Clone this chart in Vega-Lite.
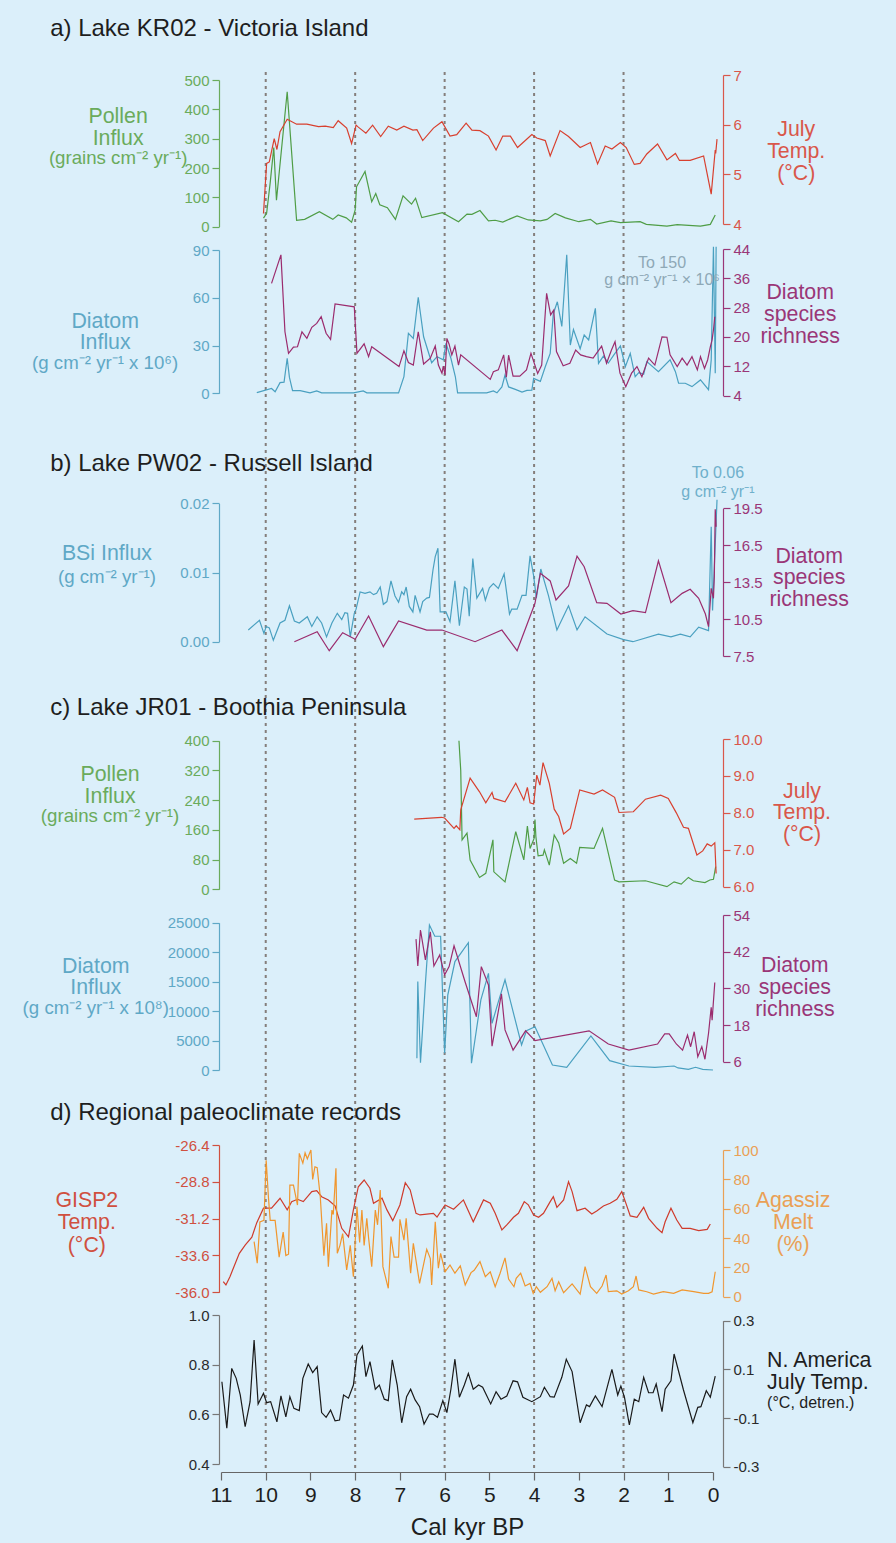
{
"$schema": "https://vega.github.io/schema/vega-lite/v6.json",
"width": 492, "height": 1400,
"autosize": {"type": "none"},
"padding": {"left": 221, "top": 72, "right": 183, "bottom": 71},
"background": "#dbeffa",
"config": {
  "view": {"stroke": null},
  "locale": {"number": {"decimal": ".", "thousands": ",", "grouping": [3], "currency": ["$", ""], "minus": "-"}},
  "axis": {"grid": false, "labelFont": "Liberation Sans", "labelFontSize": 15, "tickSize": 7, "labelPadding": 3, "domainWidth": 1.2, "tickWidth": 1.2, "titleFont": "Liberation Sans", "labelFlush": false, "labelOverlap": false},
  "text": {"font": "Liberation Sans"},
  "line": {"strokeWidth": 1.2}
},
"datasets": {
  "rules": [{"k": 10}, {"k": 8}, {"k": 6}, {"k": 4}, {"k": 2}],
  "pollenA": [{"k":10.05,"v":29},{"k":9.98,"v":46},{"k":9.9,"v":150},{"k":9.82,"v":270},{"k":9.76,"v":90},{"k":9.52,"v":460},{"k":9.31,"v":22},{"k":9.13,"v":25},{"k":8.8,"v":51},{"k":8.5,"v":25},{"k":8.38,"v":40},{"k":8.2,"v":30},{"k":8.08,"v":15},{"k":8.0,"v":57},{"k":7.97,"v":136},{"k":7.78,"v":188},{"k":7.63,"v":85},{"k":7.54,"v":113},{"k":7.45,"v":75},{"k":7.28,"v":65},{"k":7.1,"v":25},{"k":6.93,"v":105},{"k":6.74,"v":77},{"k":6.65,"v":97},{"k":6.51,"v":31},{"k":6.05,"v":48},{"k":5.69,"v":17},{"k":5.5,"v":43},{"k":5.39,"v":42},{"k":5.21,"v":55},{"k":5.02,"v":20},{"k":4.87,"v":22},{"k":4.7,"v":16},{"k":4.38,"v":37},{"k":4.13,"v":23},{"k":3.86,"v":20},{"k":3.71,"v":25},{"k":3.53,"v":45},{"k":3.3,"v":30},{"k":3.0,"v":17},{"k":2.74,"v":25},{"k":2.6,"v":9},{"k":2.28,"v":20},{"k":2.07,"v":14},{"k":1.63,"v":17},{"k":1.49,"v":8},{"k":1.03,"v":2},{"k":0.8,"v":7},{"k":0.28,"v":2},{"k":0.06,"v":8},{"k":-0.05,"v":40}],
  "tempA": [{"k":10.05,"v":4.21},{"k":9.98,"v":5.22},{"k":9.92,"v":5.25},{"k":9.81,"v":5.72},{"k":9.75,"v":5.5},{"k":9.68,"v":5.86},{"k":9.52,"v":6.11},{"k":9.31,"v":6.01},{"k":9.08,"v":6.01},{"k":8.82,"v":5.96},{"k":8.67,"v":5.97},{"k":8.49,"v":5.94},{"k":8.38,"v":6.08},{"k":8.19,"v":5.93},{"k":8.08,"v":5.62},{"k":7.98,"v":5.99},{"k":7.93,"v":5.95},{"k":7.76,"v":5.83},{"k":7.61,"v":5.99},{"k":7.43,"v":5.76},{"k":7.26,"v":5.97},{"k":7.07,"v":5.89},{"k":6.91,"v":5.97},{"k":6.71,"v":5.89},{"k":6.62,"v":5.9},{"k":6.49,"v":5.68},{"k":6.25,"v":5.93},{"k":6.06,"v":6.06},{"k":5.88,"v":5.77},{"k":5.73,"v":5.8},{"k":5.52,"v":6.03},{"k":5.39,"v":5.89},{"k":5.21,"v":5.88},{"k":5.02,"v":5.77},{"k":4.85,"v":5.49},{"k":4.7,"v":5.77},{"k":4.53,"v":5.77},{"k":4.37,"v":5.54},{"k":4.05,"v":5.8},{"k":3.94,"v":5.73},{"k":3.75,"v":5.68},{"k":3.64,"v":5.37},{"k":3.42,"v":5.88},{"k":3.23,"v":5.76},{"k":2.97,"v":5.54},{"k":2.74,"v":5.64},{"k":2.58,"v":5.21},{"k":2.41,"v":5.57},{"k":2.26,"v":5.51},{"k":2.07,"v":5.64},{"k":1.94,"v":5.54},{"k":1.76,"v":5.2},{"k":1.63,"v":5.22},{"k":1.48,"v":5.41},{"k":1.24,"v":5.61},{"k":1.03,"v":5.29},{"k":0.84,"v":5.42},{"k":0.75,"v":5.28},{"k":0.51,"v":5.28},{"k":0.21,"v":5.37},{"k":0.04,"v":4.6},{"k":-0.05,"v":5.49},{"k":-0.06,"v":5.42},{"k":-0.09,"v":5.71}],
  "diatA": [{"k":10.2,"v":0.4},{"k":9.87,"v":3},{"k":9.79,"v":1},{"k":9.68,"v":6.7},{"k":9.59,"v":7},{"k":9.52,"v":22},{"k":9.47,"v":10},{"k":9.4,"v":1.7},{"k":9.23,"v":1.7},{"k":9.01,"v":0.3},{"k":8.86,"v":1.5},{"k":8.75,"v":0.3},{"k":8.04,"v":0.3},{"k":7.82,"v":1.5},{"k":7.74,"v":0.3},{"k":7.03,"v":0.3},{"k":6.91,"v":10.5},{"k":6.81,"v":37.7},{"k":6.7,"v":34.5},{"k":6.59,"v":60.3},{"k":6.47,"v":35.5},{"k":6.29,"v":19.2},{"k":6.17,"v":23},{"k":6.03,"v":21},{"k":5.97,"v":31.4},{"k":5.86,"v":22},{"k":5.76,"v":10.4},{"k":5.71,"v":0.3},{"k":5.06,"v":0.3},{"k":4.91,"v":1.5},{"k":4.83,"v":0.3},{"k":4.72,"v":4},{"k":4.65,"v":11.5},{"k":4.57,"v":4},{"k":4.42,"v":2.5},{"k":4.27,"v":0.8},{"k":4.16,"v":1.8},{"k":4.05,"v":2},{"k":4.01,"v":9.4},{"k":3.86,"v":7.5},{"k":3.75,"v":16.7},{"k":3.64,"v":25},{"k":3.57,"v":50},{"k":3.48,"v":57.5},{"k":3.38,"v":42},{"k":3.27,"v":87},{"k":3.19,"v":30.3},{"k":3.12,"v":40},{"k":2.97,"v":28},{"k":2.88,"v":36.6},{"k":2.78,"v":33.5},{"k":2.63,"v":53.4},{"k":2.56,"v":18.8},{"k":2.45,"v":23.4},{"k":2.34,"v":19},{"k":2.22,"v":24},{"k":2.07,"v":29.7},{"k":1.96,"v":16.7},{"k":1.85,"v":25},{"k":1.74,"v":10.4},{"k":1.66,"v":13},{"k":1.55,"v":12},{"k":1.48,"v":19.9},{"k":1.22,"v":13.6},{"k":0.96,"v":21},{"k":0.84,"v":13.6},{"k":0.77,"v":6.3},{"k":0.62,"v":6.3},{"k":0.47,"v":4.2},{"k":0.28,"v":8.4},{"k":0.1,"v":2.3},{"k":0.04,"v":21},{"k":-0.01,"v":92},{"k":-0.05,"v":12.6},{"k":-0.07,"v":92}],
  "richA": [{"k":9.87,"v":34.6},{"k":9.66,"v":42.4},{"k":9.57,"v":21.4},{"k":9.49,"v":15.5},{"k":9.38,"v":17.2},{"k":9.29,"v":17.3},{"k":9.19,"v":21.4},{"k":9.08,"v":19.6},{"k":8.97,"v":22.6},{"k":8.86,"v":23.7},{"k":8.76,"v":25.5},{"k":8.65,"v":21},{"k":8.55,"v":19.3},{"k":8.45,"v":29},{"k":8.02,"v":28.2},{"k":7.96,"v":15.5},{"k":7.8,"v":18.1},{"k":7.7,"v":14.6},{"k":7.63,"v":17.3},{"k":7.02,"v":11.9},{"k":6.91,"v":16.2},{"k":6.81,"v":13},{"k":6.7,"v":12.3},{"k":6.59,"v":21.4},{"k":6.47,"v":12.6},{"k":6.32,"v":14.2},{"k":6.21,"v":17.5},{"k":6.14,"v":12.3},{"k":6.06,"v":10.1},{"k":6.03,"v":12},{"k":5.99,"v":9.6},{"k":5.95,"v":19.6},{"k":5.9,"v":18},{"k":5.84,"v":15.1},{"k":5.77,"v":17.5},{"k":5.69,"v":12.3},{"k":5.64,"v":15.1},{"k":4.98,"v":8.4},{"k":4.91,"v":10.5},{"k":4.8,"v":11},{"k":4.68,"v":15.1},{"k":4.62,"v":9},{"k":4.57,"v":15},{"k":4.47,"v":9.3},{"k":4.32,"v":9.3},{"k":4.17,"v":11},{"k":4.07,"v":15.5},{"k":3.92,"v":10},{"k":3.83,"v":12.3},{"k":3.72,"v":31.9},{"k":3.63,"v":26},{"k":3.56,"v":27.3},{"k":3.5,"v":16},{"k":3.35,"v":12.1},{"k":3.2,"v":12.8},{"k":3.07,"v":16.4},{"k":2.96,"v":15.1},{"k":2.83,"v":14.6},{"k":2.68,"v":14.2},{"k":2.49,"v":17.5},{"k":2.38,"v":12.8},{"k":2.27,"v":16.4},{"k":2.19,"v":18.7},{"k":2.08,"v":10.1},{"k":1.95,"v":6.4},{"k":1.82,"v":10.1},{"k":1.7,"v":11.9},{"k":1.59,"v":9.1},{"k":1.44,"v":14.2},{"k":1.3,"v":12.3},{"k":1.14,"v":20},{"k":1.03,"v":19.9},{"k":0.96,"v":15.1},{"k":0.8,"v":11.9},{"k":0.69,"v":14.2},{"k":0.58,"v":12.3},{"k":0.47,"v":14.6},{"k":0.35,"v":11},{"k":0.28,"v":14.6},{"k":0.19,"v":11.4},{"k":0.12,"v":13.7},{"k":0.06,"v":17.3},{"k":0.02,"v":19.2},{"k":-0.01,"v":21.9},{"k":-0.04,"v":25.5}],
  "bsi": [{"k":10.39,"v":0.0017},{"k":10.14,"v":0.0031},{"k":10.04,"v":0.0012},{"k":9.99,"v":0.0022},{"k":9.92,"v":0.002},{"k":9.83,"v":0.0002},{"k":9.68,"v":0.0027},{"k":9.57,"v":0.0031},{"k":9.47,"v":0.0052},{"k":9.36,"v":0.003},{"k":9.25,"v":0.0027},{"k":9.07,"v":0.0036},{"k":8.97,"v":0.0022},{"k":8.85,"v":0.0036},{"k":8.75,"v":0.0027},{"k":8.64,"v":0.0007},{"k":8.52,"v":0.0027},{"k":8.4,"v":0.0041},{"k":8.3,"v":0.0032},{"k":8.23,"v":0.0042},{"k":8.17,"v":0.0041},{"k":8.11,"v":0.0007},{"k":8.02,"v":0.0041},{"k":7.98,"v":0.0047},{"k":7.89,"v":0.0072},{"k":7.78,"v":0.007},{"k":7.67,"v":0.0072},{"k":7.59,"v":0.0068},{"k":7.52,"v":0.007},{"k":7.44,"v":0.0079},{"k":7.37,"v":0.0054},{"k":7.29,"v":0.0058},{"k":7.2,"v":0.0088},{"k":7.11,"v":0.0066},{"k":7.03,"v":0.0057},{"k":6.96,"v":0.0072},{"k":6.91,"v":0.0068},{"k":6.86,"v":0.0079},{"k":6.79,"v":0.0051},{"k":6.71,"v":0.0043},{"k":6.66,"v":0.0067},{"k":6.55,"v":0.0043},{"k":6.49,"v":0.0058},{"k":6.4,"v":0.0063},{"k":6.34,"v":0.0064},{"k":6.26,"v":0.0104},{"k":6.21,"v":0.0123},{"k":6.15,"v":0.0135},{"k":6.1,"v":0.0043},{"k":5.97,"v":0.0043},{"k":5.88,"v":0.0029},{"k":5.77,"v":0.0088},{"k":5.67,"v":0.0023},{"k":5.56,"v":0.0079},{"k":5.5,"v":0.0076},{"k":5.45,"v":0.0037},{"k":5.37,"v":0.012},{"k":5.28,"v":0.0063},{"k":5.15,"v":0.0077},{"k":5.09,"v":0.006},{"k":5.0,"v":0.0078},{"k":4.91,"v":0.0084},{"k":4.8,"v":0.0077},{"k":4.67,"v":0.0098},{"k":4.55,"v":0.004},{"k":4.5,"v":0.0047},{"k":4.38,"v":0.0047},{"k":4.27,"v":0.0067},{"k":4.18,"v":0.0067},{"k":4.09,"v":0.0124},{"k":4.01,"v":0.0095},{"k":3.95,"v":0.0063},{"k":3.85,"v":0.0105},{"k":3.68,"v":0.0067},{"k":3.49,"v":0.0017},{"k":3.23,"v":0.0052},{"k":3.04,"v":0.0017},{"k":2.86,"v":0.0036},{"k":2.37,"v":0.0011},{"k":2.0,"v":0.0003},{"k":1.79,"v":0.0},{"k":1.22,"v":0.0011},{"k":0.94,"v":0.0007},{"k":0.73,"v":0.0011},{"k":0.51,"v":0.0007},{"k":0.32,"v":0.0021},{"k":0.1,"v":0.0016},{"k":0.04,"v":0.0166},{"k":0.01,"v":0.0045},{"k":-0.09,"v":0.0205}],
  "richB": [{"k":9.36,"v":8.66},{"k":8.85,"v":9.47},{"k":8.58,"v":7.93},{"k":8.28,"v":9.39},{"k":8.0,"v":8.86},{"k":7.7,"v":10.75},{"k":7.37,"v":8.26},{"k":7.03,"v":10.34},{"k":6.4,"v":9.61},{"k":6.06,"v":9.61},{"k":5.32,"v":8.66},{"k":4.72,"v":9.61},{"k":4.38,"v":7.93},{"k":3.98,"v":11.78},{"k":3.86,"v":14.22},{"k":3.64,"v":13.6},{"k":3.51,"v":12.05},{"k":3.23,"v":13.19},{"k":3.04,"v":15.62},{"k":2.88,"v":14.75},{"k":2.6,"v":11.83},{"k":2.37,"v":11.78},{"k":2.06,"v":10.91},{"k":1.79,"v":11.18},{"k":1.51,"v":11.02},{"k":1.22,"v":15.24},{"k":0.94,"v":11.83},{"k":0.69,"v":12.59},{"k":0.51,"v":12.92},{"k":0.32,"v":12.19},{"k":0.17,"v":10.91},{"k":0.1,"v":9.88},{"k":0.04,"v":13.0},{"k":-0.01,"v":12.19},{"k":-0.03,"v":14.0},{"k":-0.05,"v":19.42},{"k":-0.07,"v":18.0}],
  "pollenC": [{"k":5.68,"v":400},{"k":5.64,"v":320},{"k":5.61,"v":133},{"k":5.5,"v":151},{"k":5.43,"v":79},{"k":5.22,"v":32},{"k":5.08,"v":43},{"k":4.92,"v":133},{"k":4.9,"v":47},{"k":4.65,"v":20},{"k":4.41,"v":155},{"k":4.23,"v":79},{"k":4.15,"v":170},{"k":4.09,"v":110},{"k":4.0,"v":137},{"k":3.98,"v":188},{"k":3.96,"v":142},{"k":3.91,"v":90},{"k":3.8,"v":92},{"k":3.77,"v":106},{"k":3.66,"v":65},{"k":3.55,"v":146},{"k":3.45,"v":125},{"k":3.34,"v":70},{"k":3.19,"v":83},{"k":3.05,"v":70},{"k":2.98,"v":113},{"k":2.66,"v":110},{"k":2.47,"v":164},{"k":2.2,"v":25},{"k":2.1,"v":20},{"k":1.51,"v":23},{"k":1.03,"v":7},{"k":0.87,"v":20},{"k":0.71,"v":14},{"k":0.55,"v":32},{"k":0.44,"v":23},{"k":0.18,"v":18},{"k":0.07,"v":25},{"k":-0.01,"v":27},{"k":-0.06,"v":61}],
  "tempC": [{"k":6.68,"v":7.83},{"k":6.07,"v":7.88},{"k":6.0,"v":7.86},{"k":5.79,"v":7.58},{"k":5.74,"v":7.65},{"k":5.66,"v":7.54},{"k":5.64,"v":8.08},{"k":5.43,"v":8.94},{"k":5.22,"v":8.57},{"k":5.08,"v":8.27},{"k":4.94,"v":8.55},{"k":4.9,"v":8.39},{"k":4.65,"v":8.3},{"k":4.41,"v":8.8},{"k":4.23,"v":8.35},{"k":4.15,"v":8.69},{"k":4.09,"v":8.27},{"k":4.01,"v":8.24},{"k":3.94,"v":9.02},{"k":3.87,"v":8.75},{"k":3.8,"v":9.36},{"k":3.66,"v":8.8},{"k":3.55,"v":8.1},{"k":3.45,"v":7.9},{"k":3.34,"v":7.43},{"k":3.19,"v":7.58},{"k":2.98,"v":8.62},{"k":2.66,"v":8.51},{"k":2.47,"v":8.62},{"k":2.2,"v":8.42},{"k":2.1,"v":8.01},{"k":1.78,"v":8.03},{"k":1.51,"v":8.37},{"k":1.17,"v":8.48},{"k":1.0,"v":8.39},{"k":0.82,"v":8.0},{"k":0.66,"v":7.61},{"k":0.55,"v":7.58},{"k":0.36,"v":6.86},{"k":0.23,"v":6.97},{"k":0.13,"v":7.16},{"k":0.04,"v":7.1},{"k":-0.04,"v":7.19},{"k":-0.07,"v":6.36}],
  "diatC": [{"k":6.62,"v":2000},{"k":6.6,"v":15000},{"k":6.54,"v":1240},{"k":6.43,"v":14700},{"k":6.34,"v":24600},{"k":6.22,"v":22700},{"k":6.09,"v":22700},{"k":6.0,"v":2830},{"k":5.93,"v":12700},{"k":5.77,"v":18400},{"k":5.47,"v":21600},{"k":5.4,"v":1140},{"k":5.19,"v":11900},{"k":5.02,"v":16400},{"k":4.94,"v":7900},{"k":4.81,"v":11300},{"k":4.65,"v":15300},{"k":4.28,"v":4240},{"k":4.17,"v":6670},{"k":3.98,"v":7350},{"k":3.59,"v":850},{"k":3.27,"v":460},{"k":2.73,"v":5770},{"k":2.31,"v":1580},{"k":1.88,"v":680},{"k":1.3,"v":460},{"k":0.87,"v":680},{"k":0.78,"v":350},{"k":0.55,"v":120},{"k":0.39,"v":460},{"k":0.23,"v":120},{"k":0.0,"v":0}],
  "richC": [{"k":6.64,"v":46.1},{"k":6.6,"v":37.3},{"k":6.54,"v":49.1},{"k":6.43,"v":39.3},{"k":6.32,"v":48.5},{"k":6.24,"v":37.3},{"k":6.11,"v":40.9},{"k":6.0,"v":34.4},{"k":5.9,"v":37.1},{"k":5.79,"v":43.9},{"k":5.54,"v":32},{"k":5.29,"v":20.7},{"k":5.18,"v":37.1},{"k":5.02,"v":31.1},{"k":4.94,"v":11.1},{"k":4.73,"v":28.2},{"k":4.65,"v":16.4},{"k":4.47,"v":9.8},{"k":4.19,"v":16.1},{"k":3.98,"v":12.9},{"k":2.77,"v":16.1},{"k":2.34,"v":11.8},{"k":1.88,"v":9.8},{"k":1.24,"v":11.8},{"k":1.08,"v":15.1},{"k":0.98,"v":15.1},{"k":0.82,"v":11.8},{"k":0.68,"v":9.8},{"k":0.57,"v":14.7},{"k":0.5,"v":10.9},{"k":0.42,"v":15.8},{"k":0.34,"v":7.6},{"k":0.25,"v":10.9},{"k":0.18,"v":6.8},{"k":0.1,"v":15.3},{"k":0.04,"v":23.8},{"k":0.02,"v":19.6},{"k":-0.04,"v":31.9}],
  "gisp": [{"k":10.95,"v":-35.31},{"k":10.89,"v":-35.52},{"k":10.8,"v":-34.98},{"k":10.59,"v":-33.46},{"k":10.46,"v":-32.92},{"k":10.31,"v":-32.41},{"k":10.2,"v":-31.46},{"k":10.05,"v":-30.52},{"k":9.87,"v":-30.52},{"k":9.68,"v":-29.87},{"k":9.52,"v":-30.63},{"k":9.42,"v":-30.09},{"k":9.29,"v":-29.94},{"k":9.16,"v":-30.09},{"k":8.97,"v":-29.44},{"k":8.86,"v":-29.38},{"k":8.75,"v":-29.77},{"k":8.6,"v":-29.98},{"k":8.45,"v":-30.37},{"k":8.3,"v":-31.83},{"k":8.15,"v":-32.38},{"k":8.04,"v":-30.63},{"k":7.93,"v":-29.12},{"k":7.8,"v":-28.68},{"k":7.67,"v":-29.22},{"k":7.59,"v":-30.2},{"k":7.4,"v":-29.87},{"k":7.29,"v":-30.63},{"k":7.16,"v":-31.33},{"k":7.0,"v":-30.31},{"k":6.88,"v":-28.86},{"k":6.77,"v":-29.33},{"k":6.64,"v":-30.85},{"k":6.55,"v":-30.96},{"k":6.25,"v":-30.85},{"k":6.17,"v":-31.1},{"k":5.99,"v":-30.31},{"k":5.8,"v":-30.59},{"k":5.58,"v":-29.98},{"k":5.36,"v":-31.4},{"k":5.13,"v":-29.98},{"k":4.98,"v":-30.2},{"k":4.87,"v":-30.85},{"k":4.72,"v":-31.94},{"k":4.61,"v":-31.61},{"k":4.46,"v":-31.11},{"k":4.35,"v":-30.85},{"k":4.22,"v":-30.09},{"k":4.13,"v":-30.3},{"k":4.01,"v":-30.96},{"k":3.9,"v":-31.11},{"k":3.79,"v":-30.85},{"k":3.64,"v":-30.09},{"k":3.57,"v":-29.77},{"k":3.49,"v":-30.46},{"k":3.34,"v":-29.98},{"k":3.23,"v":-28.79},{"k":3.15,"v":-29.44},{"k":3.04,"v":-30.68},{"k":2.86,"v":-30.52},{"k":2.71,"v":-30.9},{"k":2.6,"v":-30.7},{"k":2.45,"v":-30.37},{"k":2.3,"v":-30.2},{"k":2.15,"v":-29.94},{"k":2.04,"v":-29.44},{"k":1.96,"v":-30.09},{"k":1.85,"v":-31.02},{"k":1.7,"v":-31.11},{"k":1.55,"v":-30.46},{"k":1.44,"v":-31.18},{"k":1.25,"v":-31.83},{"k":1.14,"v":-32.11},{"k":1.07,"v":-31.4},{"k":0.94,"v":-30.52},{"k":0.81,"v":-31.29},{"k":0.69,"v":-31.83},{"k":0.51,"v":-31.83},{"k":0.32,"v":-31.98},{"k":0.13,"v":-31.9},{"k":0.06,"v":-31.55}],
  "agassiz": [{"k":10.26,"v":37.5},{"k":10.19,"v":22.8},{"k":10.13,"v":51},{"k":10.04,"v":52},{"k":9.99,"v":93},{"k":9.94,"v":68},{"k":9.9,"v":52},{"k":9.79,"v":52},{"k":9.7,"v":27},{"k":9.61,"v":44},{"k":9.55,"v":28},{"k":9.49,"v":29},{"k":9.46,"v":76},{"k":9.38,"v":76},{"k":9.29,"v":62.5},{"k":9.25,"v":97.7},{"k":9.17,"v":91},{"k":9.12,"v":98},{"k":9.07,"v":94},{"k":8.99,"v":100},{"k":8.95,"v":80},{"k":8.9,"v":88.6},{"k":8.85,"v":88},{"k":8.78,"v":68},{"k":8.7,"v":28},{"k":8.64,"v":50},{"k":8.6,"v":20.5},{"k":8.52,"v":59},{"k":8.49,"v":56},{"k":8.43,"v":87.5},{"k":8.4,"v":29.6},{"k":8.34,"v":35},{"k":8.28,"v":43},{"k":8.19,"v":18.2},{"k":8.11,"v":35},{"k":8.04,"v":13.6},{"k":7.96,"v":61.3},{"k":7.9,"v":37},{"k":7.85,"v":59},{"k":7.8,"v":35},{"k":7.74,"v":53.4},{"k":7.7,"v":40},{"k":7.63,"v":20.5},{"k":7.55,"v":59},{"k":7.5,"v":49},{"k":7.44,"v":72.7},{"k":7.38,"v":20.5},{"k":7.26,"v":5.7},{"k":7.2,"v":41},{"k":7.13,"v":27},{"k":7.03,"v":27},{"k":7.0,"v":52.8},{"k":6.91,"v":38.6},{"k":6.86,"v":53.4},{"k":6.76,"v":16},{"k":6.7,"v":36.4},{"k":6.56,"v":9.1},{"k":6.4,"v":32.3},{"k":6.32,"v":26},{"k":6.29,"v":8},{"k":6.21,"v":51},{"k":6.14,"v":19.4},{"k":6.09,"v":29.6},{"k":5.99,"v":17},{"k":5.88,"v":21.6},{"k":5.77,"v":16},{"k":5.65,"v":21},{"k":5.54,"v":8},{"k":5.41,"v":16.4},{"k":5.34,"v":18},{"k":5.21,"v":23.9},{"k":5.09,"v":13.6},{"k":4.98,"v":17},{"k":4.87,"v":6.8},{"k":4.76,"v":16},{"k":4.65,"v":26.5},{"k":4.57,"v":12},{"k":4.45,"v":6.8},{"k":4.4,"v":12.5},{"k":4.3,"v":16},{"k":4.2,"v":7.3},{"k":4.09,"v":9.1},{"k":4.02,"v":2.3},{"k":3.95,"v":6.8},{"k":3.86,"v":3},{"k":3.71,"v":6.8},{"k":3.6,"v":12.5},{"k":3.53,"v":4},{"k":3.45,"v":10.2},{"k":3.34,"v":2.7},{"k":3.15,"v":8.7},{"k":2.97,"v":1.8},{"k":2.86,"v":20.5},{"k":2.74,"v":6.8},{"k":2.6,"v":2.3},{"k":2.48,"v":7.3},{"k":2.39,"v":14.8},{"k":2.34,"v":3.4},{"k":2.15,"v":4},{"k":2.04,"v":1.8},{"k":1.89,"v":4},{"k":1.78,"v":6.8},{"k":1.72,"v":14.1},{"k":1.66,"v":4.6},{"k":1.48,"v":3.4},{"k":1.33,"v":1.8},{"k":1.11,"v":3.4},{"k":0.88,"v":2.3},{"k":0.69,"v":4.6},{"k":0.43,"v":3.4},{"k":0.21,"v":2.3},{"k":0.1,"v":2.3},{"k":0.02,"v":3.4},{"k":-0.05,"v":17}],
  "na": [{"k":10.98,"v":0.731},{"k":10.87,"v":0.544},{"k":10.76,"v":0.785},{"k":10.66,"v":0.745},{"k":10.57,"v":0.678},{"k":10.46,"v":0.55},{"k":10.35,"v":0.651},{"k":10.26,"v":0.899},{"k":10.17,"v":0.642},{"k":10.05,"v":0.685},{"k":9.98,"v":0.647},{"k":9.89,"v":0.651},{"k":9.75,"v":0.57},{"k":9.66,"v":0.674},{"k":9.55,"v":0.59},{"k":9.46,"v":0.671},{"k":9.37,"v":0.624},{"k":9.25,"v":0.615},{"k":9.17,"v":0.745},{"k":9.05,"v":0.803},{"k":8.95,"v":0.768},{"k":8.85,"v":0.792},{"k":8.75,"v":0.607},{"k":8.65,"v":0.588},{"k":8.55,"v":0.617},{"k":8.45,"v":0.574},{"k":8.35,"v":0.577},{"k":8.26,"v":0.678},{"k":8.15,"v":0.665},{"k":8.04,"v":0.718},{"k":7.96,"v":0.839},{"k":7.84,"v":0.875},{"k":7.76,"v":0.752},{"k":7.67,"v":0.812},{"k":7.55,"v":0.701},{"k":7.46,"v":0.718},{"k":7.35,"v":0.661},{"k":7.26,"v":0.655},{"k":7.17,"v":0.819},{"k":7.06,"v":0.718},{"k":6.96,"v":0.566},{"k":6.85,"v":0.671},{"k":6.76,"v":0.701},{"k":6.66,"v":0.658},{"k":6.56,"v":0.631},{"k":6.46,"v":0.561},{"k":6.34,"v":0.601},{"k":6.26,"v":0.601},{"k":6.16,"v":0.588},{"k":6.04,"v":0.655},{"k":5.95,"v":0.607},{"k":5.86,"v":0.701},{"k":5.77,"v":0.822},{"k":5.67,"v":0.669},{"k":5.56,"v":0.718},{"k":5.47,"v":0.765},{"k":5.36,"v":0.701},{"k":5.24,"v":0.718},{"k":5.15,"v":0.709},{"k":4.97,"v":0.642},{"k":4.85,"v":0.691},{"k":4.74,"v":0.661},{"k":4.61,"v":0.674},{"k":4.47,"v":0.735},{"k":4.37,"v":0.731},{"k":4.25,"v":0.669},{"k":4.05,"v":0.651},{"k":3.86,"v":0.671},{"k":3.77,"v":0.709},{"k":3.64,"v":0.671},{"k":3.55,"v":0.669},{"k":3.38,"v":0.749},{"k":3.28,"v":0.822},{"k":3.15,"v":0.772},{"k":2.97,"v":0.566},{"k":2.83,"v":0.638},{"k":2.76,"v":0.631},{"k":2.63,"v":0.674},{"k":2.48,"v":0.631},{"k":2.26,"v":0.781},{"k":2.13,"v":0.678},{"k":2.06,"v":0.714},{"k":1.98,"v":0.669},{"k":1.87,"v":0.557},{"k":1.76,"v":0.661},{"k":1.66,"v":0.651},{"k":1.55,"v":0.749},{"k":1.44,"v":0.687},{"k":1.34,"v":0.687},{"k":1.27,"v":0.722},{"k":1.14,"v":0.611},{"k":1.07,"v":0.701},{"k":0.94,"v":0.735},{"k":0.87,"v":0.843},{"k":0.66,"v":0.698},{"k":0.45,"v":0.566},{"k":0.34,"v":0.628},{"k":0.27,"v":0.631},{"k":0.15,"v":0.695},{"k":0.06,"v":0.669},{"k":-0.05,"v":0.754}],
  "ttlA": [{"k":14.82,"v":673,"t":"a) Lake KR02 - Victoria Island","r":"h"}],
  "lblPollenA": [{"k":13.3,"v":374,"t":"Pollen","r":"l"},{"k":13.3,"v":299,"t":"Influx","r":"l"},{"k":13.3,"v":233,"t":"(grains cm⁻² yr⁻¹)","r":"u"}],
  "lblTempA": [{"k":-1.86,"v":5.893,"t":"July","r":"l"},{"k":-1.86,"v":5.456,"t":"Temp.","r":"l"},{"k":-1.86,"v":5.0,"t":"(°C)","r":"l"}],
  "lblDiatA": [{"k":13.59,"v":44.78,"t":"Diatom","r":"l"},{"k":13.59,"v":31.59,"t":"Influx","r":"l"},{"k":13.59,"v":19.03,"t":"(g cm⁻² yr⁻¹ x 10⁶)","r":"u"}],
  "noteDiatA": [{"k":1.14,"v":82.03,"t":"To 150","r":"n"},{"k":1.14,"v":71.16,"t":"g cm⁻² yr⁻¹ × 10⁶","r":"n"}],
  "lblRichA": [{"k":-1.95,"v":32.07,"t":"Diatom","r":"l"},{"k":-1.95,"v":25.98,"t":"species","r":"l"},{"k":-1.95,"v":20.05,"t":"richness","r":"l"}],
  "ttlB": [{"k":14.82,"v":0.025679,"t":"b) Lake PW02 - Russell Island","r":"h"}],
  "lblBsi": [{"k":13.55,"v":0.012673,"t":"BSi Influx","r":"l"},{"k":13.55,"v":0.00935,"t":"(g cm⁻² yr⁻¹)","r":"u"}],
  "noteBsi": [{"k":-0.11,"v":0.024335,"t":"To 0.06","r":"n"},{"k":-0.11,"v":0.021676,"t":"g cm⁻² yr⁻¹","r":"n"}],
  "lblRichB": [{"k":-2.15,"v":15.568,"t":"Diatom","r":"l"},{"k":-2.15,"v":13.813,"t":"species","r":"l"},{"k":-2.15,"v":12.05,"t":"richness","r":"l"}],
  "ttlC": [{"k":14.82,"v":488,"t":"c) Lake JR01 - Boothia Peninsula","r":"h"}],
  "lblPollenC": [{"k":13.48,"v":307.7,"t":"Pollen","r":"l"},{"k":13.48,"v":248.5,"t":"Influx","r":"l"},{"k":13.48,"v":197.3,"t":"(grains cm⁻² yr⁻¹)","r":"u"}],
  "lblTempC": [{"k":-1.99,"v":8.573,"t":"July","r":"l"},{"k":-1.99,"v":7.988,"t":"Temp.","r":"l"},{"k":-1.99,"v":7.4,"t":"(°C)","r":"l"}],
  "lblDiatC": [{"k":13.8,"v":17481,"t":"Diatom","r":"l"},{"k":13.8,"v":13917,"t":"Influx","r":"l"},{"k":13.8,"v":10523,"t":"(g cm⁻² yr⁻¹ x 10⁸)","r":"u"}],
  "lblRichC": [{"k":-1.83,"v":37.31,"t":"Diatom","r":"l"},{"k":-1.83,"v":30.02,"t":"species","r":"l"},{"k":-1.83,"v":22.92,"t":"richness","r":"l"}],
  "ttlD": [{"k":14.82,"v":125.2,"t":"d) Regional paleoclimate records","r":"h"}],
  "lblGisp": [{"k":14.0,"v":-30.05,"t":"GISP2","r":"l"},{"k":14.0,"v":-31.484,"t":"Temp.","r":"l"},{"k":14.0,"v":-32.983,"t":"(°C)","r":"l"}],
  "lblAgassiz": [{"k":-1.79,"v":65.44,"t":"Agassiz","r":"l"},{"k":-1.79,"v":50.44,"t":"Melt","r":"l"},{"k":-1.79,"v":35.24,"t":"(%)","r":"l"}],
  "lblNA": [{"k":-1.21,"v":0.1344,"t":"N. America","r":"l"},{"k":-1.21,"v":0.0452,"t":"July Temp.","r":"l"},{"k":-1.21,"v":-0.037,"t":"(°C, detren.)","r":"n"}]
},
"encoding": {
  "x": {"field": "k", "type": "quantitative",
        "scale": {"domain": [0, 11], "reverse": true, "nice": false, "zero": false},
        "axis": {"values": [0,1,2,3,4,5,6,7,8,9,10,11], "format": "d", "labelFontSize": 21, "labelColor": "#1e1e1e", "tickColor": "#666666", "domainColor": "#666666", "tickSize": 8, "labelPadding": 4, "title": "Cal kyr BP", "titleFontSize": 24, "titleFontWeight": "normal", "titleColor": "#1e1e1e", "titlePadding": 10}}
},
"resolve": {"scale": {"y": "independent"}, "axis": {"y": "independent"}},
"layer": [
  {"data": {"name": "rules"}, "mark": {"type": "rule", "color": "#857e7b", "strokeWidth": 2, "strokeDash": [3, 4]}, "encoding": {}},
  {"encoding": {"y": {"field": "v", "type": "quantitative", "scale": {"domain": [0, 500], "range": [154.7, 8], "nice": false, "zero": false},
       "axis": {"orient": "left", "offset": 2, "values": [0,100,200,300,400,500], "title": null, "domainColor": "#6aab5c", "tickColor": "#6aab5c", "labelColor": "#6aab5c"}}},
   "layer": [
    {"data": {"name": "pollenA"}, "mark": {"type": "line", "color": "#4f9d46"}},
    {"data": {"name": "lblPollenA"}, "mark": {"type": "text", "color": "#6aab5c", "align": "center", "baseline": "middle"},
     "encoding": {"text": {"field": "t"}, "size": {"field": "r", "type": "ordinal", "scale": {"domain": ["h","l","u","n"], "range": [24,16,11.5,13.5]}, "legend": null}}},
    {"data": {"name": "ttlA"}, "mark": {"type": "text", "color": "#1e1e1e", "align": "left", "baseline": "middle"},
     "encoding": {"text": {"field": "t"}, "size": {"field": "r", "type": "ordinal", "scale": {"domain": ["h","l","u","n"], "range": [24,16,11.5,13.5]}, "legend": null}}}
  ]},
  {"encoding": {"y": {"field": "v", "type": "quantitative", "scale": {"domain": [4, 7], "range": [152, 3], "nice": false, "zero": false},
       "axis": {"orient": "right", "offset": 10, "values": [4,5,6,7], "title": null, "domainColor": "#d9574a", "tickColor": "#d9574a", "labelColor": "#d9574a"}}},
   "layer": [
    {"data": {"name": "tempA"}, "mark": {"type": "line", "color": "#d8402f"}},
    {"data": {"name": "lblTempA"}, "mark": {"type": "text", "color": "#d9574a", "align": "center", "baseline": "middle"},
     "encoding": {"text": {"field": "t"}, "size": {"field": "r", "type": "ordinal", "scale": {"domain": ["h","l","u","n"], "range": [24,16,11.5,13.5]}, "legend": null}}}
  ]},
  {"encoding": {"y": {"field": "v", "type": "quantitative", "scale": {"domain": [0, 90], "range": [321.3, 178], "nice": false, "zero": false},
       "axis": {"orient": "left", "offset": 2, "values": [0,30,60,90], "title": null, "domainColor": "#5fa8c6", "tickColor": "#5fa8c6", "labelColor": "#5fa8c6"}}},
   "layer": [
    {"data": {"name": "diatA"}, "mark": {"type": "line", "color": "#4aa0c0"}},
    {"data": {"name": "lblDiatA"}, "mark": {"type": "text", "color": "#5fa8c6", "align": "center", "baseline": "middle"},
     "encoding": {"text": {"field": "t"}, "size": {"field": "r", "type": "ordinal", "scale": {"domain": ["h","l","u","n"], "range": [24,16,11.5,13.5]}, "legend": null}}},
    {"data": {"name": "noteDiatA"}, "mark": {"type": "text", "color": "#8ea8b6", "align": "center", "baseline": "middle"},
     "encoding": {"text": {"field": "t"}, "size": {"field": "r", "type": "ordinal", "scale": {"domain": ["h","l","u","n"], "range": [24,16,11.5,13.5]}, "legend": null}}}
  ]},
  {"encoding": {"y": {"field": "v", "type": "quantitative", "scale": {"domain": [4, 44], "range": [323.5, 177], "nice": false, "zero": false},
       "axis": {"orient": "right", "offset": 10, "values": [4,12,20,28,36,44], "title": null, "domainColor": "#9a3677", "tickColor": "#9a3677", "labelColor": "#9a3677"}}},
   "layer": [
    {"data": {"name": "richA"}, "mark": {"type": "line", "color": "#9b2c6e"}},
    {"data": {"name": "lblRichA"}, "mark": {"type": "text", "color": "#9a3677", "align": "center", "baseline": "middle"},
     "encoding": {"text": {"field": "t"}, "size": {"field": "r", "type": "ordinal", "scale": {"domain": ["h","l","u","n"], "range": [24,16,11.5,13.5]}, "legend": null}}}
  ]},
  {"encoding": {"y": {"field": "v", "type": "quantitative", "scale": {"domain": [0, 0.02], "range": [569.7, 431.3], "nice": false, "zero": false},
       "axis": {"orient": "left", "offset": 2, "values": [0, 0.01, 0.02], "format": ".2f", "title": null, "domainColor": "#5fa8c6", "tickColor": "#5fa8c6", "labelColor": "#5fa8c6"}}},
   "layer": [
    {"data": {"name": "bsi"}, "mark": {"type": "line", "color": "#4aa0c0"}},
    {"data": {"name": "lblBsi"}, "mark": {"type": "text", "color": "#5fa8c6", "align": "center", "baseline": "middle"},
     "encoding": {"text": {"field": "t"}, "size": {"field": "r", "type": "ordinal", "scale": {"domain": ["h","l","u","n"], "range": [24,16,11.5,13.5]}, "legend": null}}},
    {"data": {"name": "noteBsi"}, "mark": {"type": "text", "color": "#6fb0cb", "align": "center", "baseline": "middle"},
     "encoding": {"text": {"field": "t"}, "size": {"field": "r", "type": "ordinal", "scale": {"domain": ["h","l","u","n"], "range": [24,16,11.5,13.5]}, "legend": null}}},
    {"data": {"name": "ttlB"}, "mark": {"type": "text", "color": "#1e1e1e", "align": "left", "baseline": "middle"},
     "encoding": {"text": {"field": "t"}, "size": {"field": "r", "type": "ordinal", "scale": {"domain": ["h","l","u","n"], "range": [24,16,11.5,13.5]}, "legend": null}}}
  ]},
  {"encoding": {"y": {"field": "v", "type": "quantitative", "scale": {"domain": [7.5, 19.5], "range": [584, 436.3], "nice": false, "zero": false},
       "axis": {"orient": "right", "offset": 10, "values": [7.5,10.5,13.5,16.5,19.5], "format": ".1f", "title": null, "domainColor": "#9a3677", "tickColor": "#9a3677", "labelColor": "#9a3677"}}},
   "layer": [
    {"data": {"name": "richB"}, "mark": {"type": "line", "color": "#9b2c6e"}},
    {"data": {"name": "lblRichB"}, "mark": {"type": "text", "color": "#9a3677", "align": "center", "baseline": "middle"},
     "encoding": {"text": {"field": "t"}, "size": {"field": "r", "type": "ordinal", "scale": {"domain": ["h","l","u","n"], "range": [24,16,11.5,13.5]}, "legend": null}}}
  ]},
  {"encoding": {"y": {"field": "v", "type": "quantitative", "scale": {"domain": [0, 400], "range": [817.3, 668.7], "nice": false, "zero": false},
       "axis": {"orient": "left", "offset": 2, "values": [0,80,160,240,320,400], "title": null, "domainColor": "#6aab5c", "tickColor": "#6aab5c", "labelColor": "#6aab5c"}}},
   "layer": [
    {"data": {"name": "pollenC"}, "mark": {"type": "line", "color": "#4f9d46"}},
    {"data": {"name": "lblPollenC"}, "mark": {"type": "text", "color": "#6aab5c", "align": "center", "baseline": "middle"},
     "encoding": {"text": {"field": "t"}, "size": {"field": "r", "type": "ordinal", "scale": {"domain": ["h","l","u","n"], "range": [24,16,11.5,13.5]}, "legend": null}}},
    {"data": {"name": "ttlC"}, "mark": {"type": "text", "color": "#1e1e1e", "align": "left", "baseline": "middle"},
     "encoding": {"text": {"field": "t"}, "size": {"field": "r", "type": "ordinal", "scale": {"domain": ["h","l","u","n"], "range": [24,16,11.5,13.5]}, "legend": null}}}
  ]},
  {"encoding": {"y": {"field": "v", "type": "quantitative", "scale": {"domain": [6, 10], "range": [814.7, 667], "nice": false, "zero": false},
       "axis": {"orient": "right", "offset": 10, "values": [6,7,8,9,10], "format": ".1f", "title": null, "domainColor": "#d9574a", "tickColor": "#d9574a", "labelColor": "#d9574a"}}},
   "layer": [
    {"data": {"name": "tempC"}, "mark": {"type": "line", "color": "#d8402f"}},
    {"data": {"name": "lblTempC"}, "mark": {"type": "text", "color": "#d9574a", "align": "center", "baseline": "middle"},
     "encoding": {"text": {"field": "t"}, "size": {"field": "r", "type": "ordinal", "scale": {"domain": ["h","l","u","n"], "range": [24,16,11.5,13.5]}, "legend": null}}}
  ]},
  {"encoding": {"y": {"field": "v", "type": "quantitative", "scale": {"domain": [0, 25000], "range": [998, 850.7], "nice": false, "zero": false},
       "axis": {"orient": "left", "offset": 2, "values": [0,5000,10000,15000,20000,25000], "format": "d", "title": null, "domainColor": "#5fa8c6", "tickColor": "#5fa8c6", "labelColor": "#5fa8c6"}}},
   "layer": [
    {"data": {"name": "diatC"}, "mark": {"type": "line", "color": "#4aa0c0"}},
    {"data": {"name": "lblDiatC"}, "mark": {"type": "text", "color": "#5fa8c6", "align": "center", "baseline": "middle"},
     "encoding": {"text": {"field": "t"}, "size": {"field": "r", "type": "ordinal", "scale": {"domain": ["h","l","u","n"], "range": [24,16,11.5,13.5]}, "legend": null}}}
  ]},
  {"encoding": {"y": {"field": "v", "type": "quantitative", "scale": {"domain": [6, 54], "range": [989.7, 843], "nice": false, "zero": false},
       "axis": {"orient": "right", "offset": 10, "values": [6,18,30,42,54], "title": null, "domainColor": "#9a3677", "tickColor": "#9a3677", "labelColor": "#9a3677"}}},
   "layer": [
    {"data": {"name": "richC"}, "mark": {"type": "line", "color": "#9b2c6e"}},
    {"data": {"name": "lblRichC"}, "mark": {"type": "text", "color": "#9a3677", "align": "center", "baseline": "middle"},
     "encoding": {"text": {"field": "t"}, "size": {"field": "r", "type": "ordinal", "scale": {"domain": ["h","l","u","n"], "range": [24,16,11.5,13.5]}, "legend": null}}}
  ]},
  {"encoding": {"y": {"field": "v", "type": "quantitative", "scale": {"domain": [-36, -26.4], "range": [1220.3, 1073], "nice": false, "zero": false},
       "axis": {"orient": "left", "offset": 2, "values": [-36,-33.6,-31.2,-28.8,-26.4], "format": ".1f", "title": null, "domainColor": "#d0503f", "tickColor": "#d0503f", "labelColor": "#d0503f"}}},
   "layer": [
    {"data": {"name": "gisp"}, "mark": {"type": "line", "color": "#cf3b2c"}},
    {"data": {"name": "lblGisp"}, "mark": {"type": "text", "color": "#d0503f", "align": "center", "baseline": "middle"},
     "encoding": {"text": {"field": "t"}, "size": {"field": "r", "type": "ordinal", "scale": {"domain": ["h","l","u","n"], "range": [24,16,11.5,13.5]}, "legend": null}}}
  ]},
  {"encoding": {"y": {"field": "v", "type": "quantitative", "scale": {"domain": [0, 100], "range": [1224.7, 1078], "nice": false, "zero": false},
       "axis": {"orient": "right", "offset": 10, "values": [0,20,40,60,80,100], "title": null, "domainColor": "#eaa055", "tickColor": "#eaa055", "labelColor": "#eaa055"}}},
   "layer": [
    {"data": {"name": "agassiz"}, "mark": {"type": "line", "color": "#f0962e"}},
    {"data": {"name": "lblAgassiz"}, "mark": {"type": "text", "color": "#eaa055", "align": "center", "baseline": "middle"},
     "encoding": {"text": {"field": "t"}, "size": {"field": "r", "type": "ordinal", "scale": {"domain": ["h","l","u","n"], "range": [24,16,11.5,13.5]}, "legend": null}}},
    {"data": {"name": "ttlD"}, "mark": {"type": "text", "color": "#1e1e1e", "align": "left", "baseline": "middle"},
     "encoding": {"text": {"field": "t"}, "size": {"field": "r", "type": "ordinal", "scale": {"domain": ["h","l","u","n"], "range": [24,16,11.5,13.5]}, "legend": null}}}
  ]},
  {"data": {"name": "na"}, "mark": {"type": "line", "color": "#1a1a1a"},
   "encoding": {"y": {"field": "v", "type": "quantitative", "scale": {"domain": [0.4, 1.0], "range": [1392, 1243], "nice": false, "zero": false},
       "axis": {"orient": "left", "offset": 2, "values": [0.4,0.6,0.8,1.0], "format": ".1f", "title": null, "domainColor": "#777777", "tickColor": "#777777", "labelColor": "#2a2a2a"}}}},
  {"data": {"name": "lblNA"}, "mark": {"type": "text", "color": "#1e1e1e", "align": "left", "baseline": "middle"},
   "encoding": {"y": {"field": "v", "type": "quantitative", "scale": {"domain": [-0.3, 0.3], "range": [1394.7, 1248.7], "nice": false, "zero": false},
       "axis": {"orient": "right", "offset": 10, "values": [-0.3,-0.1,0.1,0.3], "format": ".1f", "title": null, "domainColor": "#777777", "tickColor": "#777777", "labelColor": "#2a2a2a"}},
    "text": {"field": "t"}, "size": {"field": "r", "type": "ordinal", "scale": {"domain": ["h","l","u","n"], "range": [24,16,11.5,13.5]}, "legend": null}}}
]
}
